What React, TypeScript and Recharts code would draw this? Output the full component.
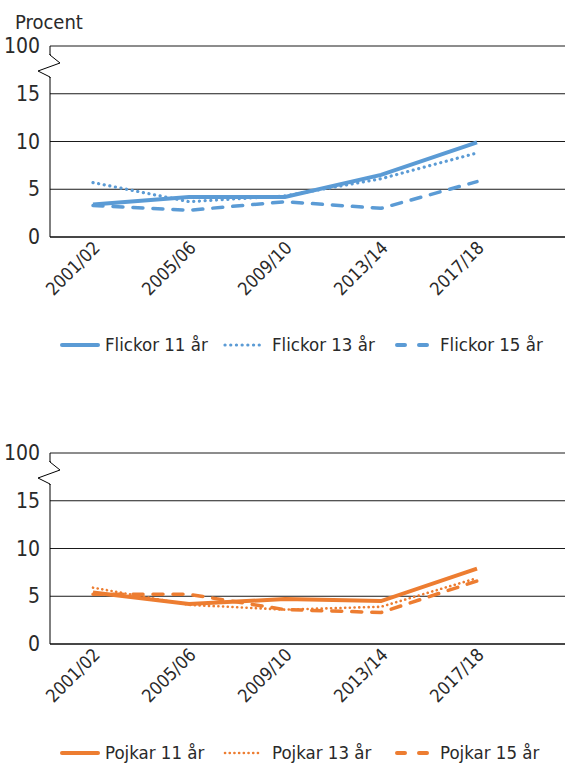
import React from 'react';
import { LineChart, Line, XAxis, YAxis, CartesianGrid, Legend } from 'recharts';

const years = ['2001/02', '2005/06', '2009/10', '2013/14', '2017/18'];
const flickor11 = [3.4, 4.2, 4.2, 6.5, 9.9];
const flickor13 = [5.7, 3.7, 4.3, 6.1, 8.8];
const flickor15 = [3.3, 2.8, 3.7, 3.0, 5.8];
const pojkar11 = [5.4, 4.2, 4.7, 4.5, 7.9];
const pojkar13 = [5.9, 4.1, 3.6, 3.9, 6.9];
const pojkar15 = [5.2, 5.2, 3.6, 3.3, 6.6];
const yTicks = [0, 5, 10, 15, 20];
const yTickLabels = ['0', '5', '10', '15', '100'];
const girlNames = ['Flickor 11 år', 'Flickor 13 år', 'Flickor 15 år'];
const boyNames = ['Pojkar 11 år', 'Pojkar 13 år', 'Pojkar 15 år'];

const BLUE = '#5B9BD5';
const ORANGE = '#ED7D31';
const FONT = "'Liberation Sans Narrow', 'DejaVu Sans Condensed', Roboto, sans-serif";
const TEXT = '#2a2a2a';

const girlsData = years.map((y, i) => ({ year: y, a: flickor11[i], b: flickor13[i], c: flickor15[i] }));
const boysData = years.map((y, i) => ({ year: y, a: pojkar11[i], b: pojkar13[i], c: pojkar15[i] }));

const AXIS_X = 50;

const YTick = (props: any) => {
  const { y, payload } = props;
  const idx = yTicks.indexOf(payload.value);
  const label = idx >= 0 ? yTickLabels[idx] : String(payload.value);
  const isTop = payload.value === 20;
  return (
    <g>
      <text x={AXIS_X - 10} y={y} dy={7} textAnchor="end" fill={TEXT} fontSize={21} fontFamily={FONT}>
        {label}
      </text>
      {isTop && (
        <g>
          <line x1={AXIS_X} x2={AXIS_X} y1={y + 9} y2={y + 31} stroke="#fff" strokeWidth={3} />
          <polyline
            points={`${AXIS_X},${y + 8} ${AXIS_X},${y + 9} ${AXIS_X + 10},${y + 17} ${AXIS_X - 12},${y + 25} ${AXIS_X},${y + 31} ${AXIS_X},${y + 32}`}
            fill="none"
            stroke="#000"
            strokeWidth={1}
          />
        </g>
      )}
    </g>
  );
};

const XTick = (props: any) => {
  const { x, y, payload } = props;
  return (
    <text
      transform={`translate(${x + 8},${y + 4}) rotate(-45)`}
      textAnchor="end"
      fill={TEXT}
      fontSize={18}
      fontFamily={FONT}
    >
      {payload.value}
    </text>
  );
};

const makeLegend = (names: string[], color: string, dotW: number, dotDash: string) => () => {
  const icons = [
    <line key="s" x1={2} x2={38} y1={6} y2={6} stroke={color} strokeWidth={4} strokeLinecap="round" />,
    <line key="d" x1={2} x2={38} y1={6} y2={6} stroke={color} strokeWidth={dotW} strokeLinecap="round" strokeDasharray={dotDash} />,
    <line key="x" x1={4} x2={34} y1={6} y2={6} stroke={color} strokeWidth={4} strokeLinecap="round" strokeDasharray="8 14" />,
  ];
  const starts = [60, 223, 393];
  const textOff = [45, 49, 47];
  return (
    <div style={{ position: 'relative', width: 565, height: 24 }}>
      {names.map((n, i) => (
        <div key={n} style={{ position: 'absolute', left: starts[i], top: 0, height: 24 }}>
          <svg width={40} height={12} style={{ position: 'absolute', left: 0, top: 6 }}>{icons[i]}</svg>
          <span
            style={{
              position: 'absolute',
              left: textOff[i],
              top: 0,
              whiteSpace: 'nowrap',
              fontFamily: FONT,
              fontSize: 18.5,
              lineHeight: '24px',
              color: TEXT,
            }}
          >
            {n}
          </span>
        </div>
      ))}
    </div>
  );
};

const ProcentLabel = () => (
  <text x={15} y={29} fill={TEXT} fontSize={20} fontFamily={FONT}>
    Procent
  </text>
);

type PanelProps = {
  data: any[];
  color: string;
  names: string[];
  height: number;
  top: number;
  legendTop: number;
  dotW: number;
  dotDash: string;
  procent?: boolean;
};

const Panel = ({ data, color, names, height, top, legendTop, dotW, dotDash, procent }: PanelProps) => (
  <LineChart width={565} height={height} data={data} margin={{ top, right: 0, left: 0, bottom: 0 }}>
    <CartesianGrid vertical={false} stroke="#1a1a1a" strokeWidth={1} />
    <XAxis
      dataKey="year"
      padding={{ left: 43, right: 88 }}
      axisLine={{ stroke: '#000', strokeWidth: 1 }}
      tickLine={false}
      tick={<XTick />}
      interval={0}
      height={90}
    />
    <YAxis
      domain={[0, 20]}
      ticks={yTicks}
      interval={0}
      width={AXIS_X}
      axisLine={{ stroke: '#000', strokeWidth: 1 }}
      tickLine={false}
      tick={<YTick />}
      label={procent ? <ProcentLabel /> : undefined}
    />
    <Line dataKey="a" name={names[0]} stroke={color} strokeWidth={4} dot={false} isAnimationActive={false} />
    <Line
      dataKey="b"
      name={names[1]}
      stroke={color}
      strokeWidth={dotW}
      strokeLinecap="round"
      strokeDasharray={dotDash}
      dot={false}
      isAnimationActive={false}
    />
    <Line
      dataKey="c"
      name={names[2]}
      stroke={color}
      strokeWidth={3.5}
      strokeLinecap="round"
      strokeDasharray="10 10"
      dot={false}
      isAnimationActive={false}
    />
    <Legend
      verticalAlign="bottom"
      height={height - top - 191 - 90}
      content={makeLegend(names, color, dotW, dotDash)}
      wrapperStyle={{ left: 0, width: 565, top: legendTop }}
    />
  </LineChart>
);

export default function App() {
  return (
    <div style={{ position: 'absolute', left: 0, top: 0, width: 565, height: 764, background: '#fff' }}>
      <div style={{ position: 'absolute', left: 0, top: 0 }}>
        <Panel data={girlsData} color={BLUE} names={girlNames} height={370} top={46} legendTop={333} dotW={3.2} dotDash="0.1 5.6" procent />
      </div>
      <div style={{ position: 'absolute', left: 0, top: 400 }}>
        <Panel data={boysData} color={ORANGE} names={boyNames} height={364} top={53} legendTop={341} dotW={2.6} dotDash="0.1 4.6" />
      </div>
    </div>
  );
}
